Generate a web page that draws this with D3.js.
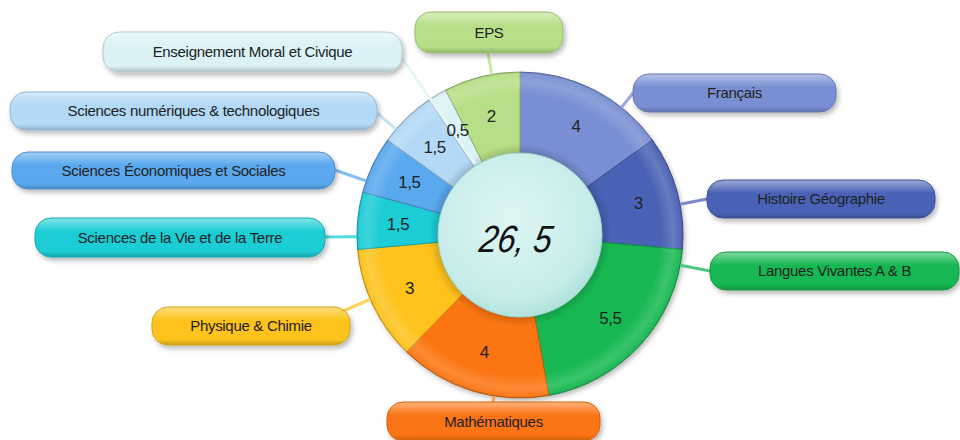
<!DOCTYPE html>
<html>
<head>
<meta charset="utf-8">
<script src="https://cdn.jsdelivr.net/npm/d3@7"></script>
<style>
	body { margin: 0; background: #fff; }
	svg { display: block; }
</style>
</head>
<body>
<svg id="chart"></svg>
<script>
// weekly hours per subject, clockwise from 12 o'clock
const subjects = [
	"Français",
	"Histoire Géographie",
	"Langues Vivantes A & B",
	"Mathématiques",
	"Physique & Chimie",
	"Sciences de la Vie et de la Terre",
	"Sciences Économiques et Sociales",
	"Sciences numériques & technologiques",
	"Enseignement Moral et Civique",
	"EPS"
];
const hours = [4, 3, 5.5, 4, 3, 1.5, 1.5, 1.5, 0.5, 2];
const colors = ["#7a8fd3", "#4a62b5", "#17b852", "#fb7512", "#fdc31c", "#1ccdd6", "#5aa9ee", "#b3d9f6", "#dbf2f6", "#b7df87"];

// hand placed callout boxes (layout only), same order as subjects
const callouts = [
	{ x: 633, y: 74, w: 203, h: 38, ax: 633, ay: 93 },
	{ x: 707, y: 180, w: 228, h: 38, ax: 707, ay: 199 },
	{ x: 710, y: 252, w: 249, h: 38, ax: 710, ay: 271 },
	{ x: 387, y: 402, w: 213, h: 39, ax: 493, ay: 402 },
	{ x: 152, y: 307, w: 198, h: 38, ax: 343, ay: 311 },
	{ x: 35, y: 218, w: 290, h: 39, ax: 323, ay: 237 },
	{ x: 12, y: 152, w: 323, h: 37, ax: 335, ay: 170 },
	{ x: 10, y: 92, w: 367, h: 38, ax: 377, ay: 113 },
	{ x: 103, y: 32, w: 299, h: 40, ax: 400, ay: 55, reach: "inner" },
	{ x: 415, y: 12, w: 148, h: 41, ax: 488, ay: 53 }
];

const width = 960;
const height = 440;
const cx = 520;
const cy = 235;
const outerR = 163;
const innerR = 82;

const svg = d3.select("#chart").attr("width", width).attr("height", height);
const defs = svg.append("defs");

// soft shadow used by donut and boxes
const shadow = defs.append("filter").attr("id", "shadow")
	.attr("x", "-20%").attr("y", "-20%").attr("width", "140%").attr("height", "160%");
shadow.append("feDropShadow").attr("dx", 2).attr("dy", 3).attr("stdDeviation", 2.5)
	.attr("flood-color", "#000").attr("flood-opacity", 0.28);

// bevel overlay for the ring (local coords, centre at 0,0)
const bevel = defs.append("radialGradient").attr("id", "bevel")
	.attr("gradientUnits", "userSpaceOnUse")
	.attr("cx", 0).attr("cy", 0).attr("r", outerR);
[[0.5, "#000", 0.16], [0.56, "#000", 0], [0.86, "#fff", 0], [0.94, "#fff", 0.16], [0.985, "#fff", 0.05], [1, "#000", 0.15]]
	.forEach(([o, c, a]) => bevel.append("stop").attr("offset", o).attr("stop-color", c).attr("stop-opacity", a));

const hub = defs.append("radialGradient").attr("id", "hub").attr("cx", "45%").attr("cy", "40%").attr("r", "62%");
hub.append("stop").attr("offset", 0).attr("stop-color", "#def6f4");
hub.append("stop").attr("offset", 0.8).attr("stop-color", "#c6ece9");
hub.append("stop").attr("offset", 1).attr("stop-color", "#ace0dc");

const data = subjects.map((s, i) => ({ subject: s, value: hours[i], color: colors[i], box: callouts[i] }));
const total = d3.sum(hours);

// box gradients
data.forEach((d, i) => {
	const g = defs.append("linearGradient").attr("id", "box" + i).attr("x1", 0).attr("x2", 0).attr("y1", 0).attr("y2", 1);
	g.append("stop").attr("offset", 0).attr("stop-color", d3.interpolateRgb(d.color, "#fff")(0.45));
	g.append("stop").attr("offset", 0.35).attr("stop-color", d.color);
	g.append("stop").attr("offset", 0.85).attr("stop-color", d.color);
	g.append("stop").attr("offset", 1).attr("stop-color", d3.color(d.color).darker(0.6));
});

const pie = d3.pie().sort(null).value((d) => d.value);
const arcs = pie(data);
const arc = d3.arc().innerRadius(innerR).outerRadius(outerR);

const ring = svg.append("g").attr("transform", `translate(${cx},${cy})`);

ring.append("circle").attr("r", outerR).attr("fill", "#fff").attr("filter", "url(#shadow)");

ring.selectAll("path.slice")
	.data(arcs)
	.join("path")
	.attr("class", "slice")
	.attr("d", arc)
	.attr("fill", (d) => d.data.color)
	.attr("stroke", (d) => d3.color(d.data.color).darker(0.7))
	.attr("stroke-width", 1);

// shading on top of the slices
ring.selectAll("path.bevel")
	.data(arcs)
	.join("path")
	.attr("class", "bevel")
	.attr("d", arc)
	.attr("fill", "url(#bevel)")
	.attr("pointer-events", "none");

// centre hub
ring.append("circle")
	.attr("r", innerR)
	.attr("fill", "url(#hub)")
	.attr("stroke", "#a3d6d3").attr("stroke-width", 1);

// connectors from ring to boxes
const tau = 2 * Math.PI;
const pointAt = (a, r) => [cx + r * Math.sin(a), cy - r * Math.cos(a)];
const connectors = svg.append("g");
arcs.forEach((d) => {
	const b = d.data.box;
	let a = Math.atan2(b.ax - cx, -(b.ay - cy));
	if (a < 0) a += tau;
	const pad = Math.min(0.04, (d.endAngle - d.startAngle) / 4);
	a = Math.max(d.startAngle + pad, Math.min(d.endAngle - pad, a));
	const p = pointAt(a, b.reach === "inner" ? innerR + 2 : outerR);
	connectors.append("line")
		.attr("x1", p[0]).attr("y1", p[1])
		.attr("x2", b.ax).attr("y2", b.ay)
		.attr("stroke", d3.interpolateRgb(d.data.color, "#fff")(0.25))
		.attr("stroke-width", 3);
});

// slice values (above the connectors)
const fmt = (v) => String(v).replace(".", ",");
const mid = d3.arc().innerRadius((innerR + outerR) / 2).outerRadius((innerR + outerR) / 2);
svg.append("g")
	.attr("transform", `translate(${cx},${cy})`)
	.selectAll("text")
	.data(arcs)
	.join("text")
	.attr("transform", (d) => `translate(${mid.centroid(d)})`)
	.attr("text-anchor", "middle")
	.attr("dy", "0.36em")
	.attr("font-family", "Liberation Sans, Arial, sans-serif")
	.attr("font-size", 17)
	.attr("letter-spacing", -0.4)
	.attr("fill", "#222")
	.text((d) => fmt(d.data.value));

// total in the middle
svg.append("text")
	.attr("transform", `translate(${cx - 6},${cy + 17}) skewX(-10)`)
	.attr("text-anchor", "middle")
	.attr("font-family", "Liberation Sans, Arial, sans-serif")
	.attr("font-style", "italic")
	.attr("font-size", 38)
	.attr("textLength", 72)
	.attr("lengthAdjust", "spacingAndGlyphs")
	.attr("fill", "#111")
	.text(fmt(total).replace(",", ", "));

// callout boxes
const boxes = svg.append("g").selectAll("g")
	.data(data)
	.join("g");

boxes.append("rect")
	.attr("x", (d) => d.box.x).attr("y", (d) => d.box.y)
	.attr("width", (d) => d.box.w).attr("height", (d) => d.box.h)
	.attr("rx", 16).attr("ry", 16)
	.attr("fill", (d, i) => `url(#box${i})`)
	.attr("stroke", (d) => d3.color(d.color).darker(0.5))
	.attr("stroke-width", 1)
	.attr("filter", "url(#shadow)");

boxes.append("text")
	.attr("x", (d) => d.box.x + d.box.w / 2)
	.attr("y", (d) => d.box.y + d.box.h / 2)
	.attr("dy", "0.36em")
	.attr("text-anchor", "middle")
	.attr("font-family", "Liberation Sans, Arial, sans-serif")
	.attr("font-size", 15)
	.attr("letter-spacing", -0.3)
	.attr("fill", "#222")
	.text((d) => d.subject);
</script>
</body>
</html>
